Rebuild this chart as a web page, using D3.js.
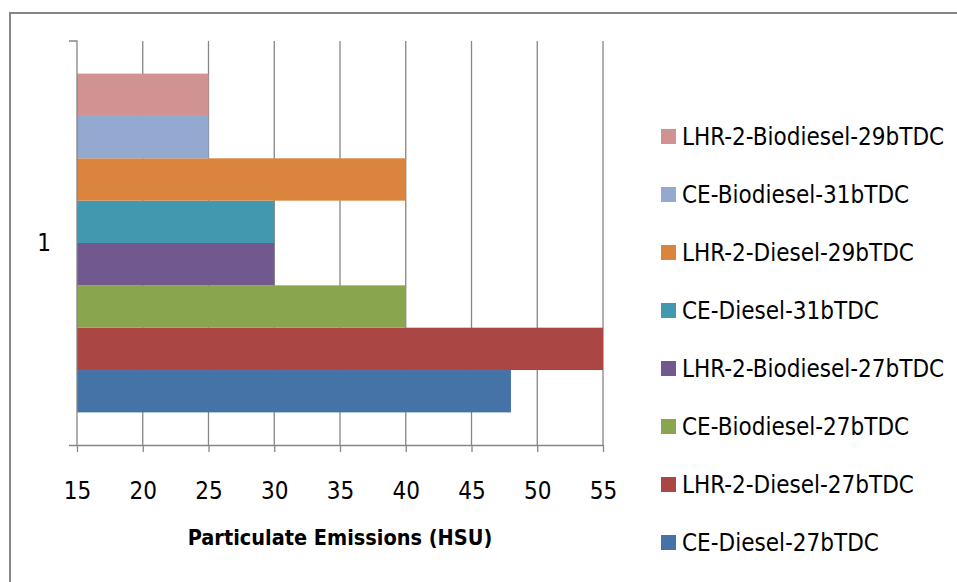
<!DOCTYPE html>
<html>
<head>
<meta charset="utf-8">
<script src="https://cdn.jsdelivr.net/npm/d3@7"></script>
<style>
  body { margin: 0; background: #fff; }
  text { font-family: "Liberation Sans Narrow", "DejaVu Sans Condensed", "Liberation Sans", sans-serif; fill: #000; }
</style>
</head>
<body>
<div id="chart"></div>
<script>
// data (series in plotting order, first = bottom bar)
const categories = ["1"];
const seriesNames = [
  "CE-Diesel-27bTDC",
  "LHR-2-Diesel-27bTDC",
  "CE-Biodiesel-27bTDC",
  "LHR-2-Biodiesel-27bTDC",
  "CE-Diesel-31bTDC",
  "LHR-2-Diesel-29bTDC",
  "CE-Biodiesel-31bTDC",
  "LHR-2-Biodiesel-29bTDC"
];
const seriesValues = [48, 55, 40, 30, 30, 40, 25, 25];
const seriesColors = ["#4572A7", "#AA4643", "#89A54E", "#71588F", "#4198AF", "#DB843D", "#93A9CF", "#D19392"];
const xTicks = [15, 20, 25, 30, 35, 40, 45, 50, 55];
const xTitle = "Particulate Emissions (HSU)";

const width = 957;
const height = 582;
const plot = { left: 77, right: 603, top: 41, bottom: 445 };
const gridColor = "#868686";

const svg = d3.select("#chart")
  .append("svg")
  .attr("width", width)
  .attr("height", height);

// outer chart border (runs off right and bottom edges)
svg.append("rect")
  .attr("x", 10)
  .attr("y", 13)
  .attr("width", 1000)
  .attr("height", 700)
  .attr("fill", "#fff")
  .attr("stroke", gridColor)
  .attr("stroke-width", 2);

const x = d3.scaleLinear()
  .domain([15, 55])
  .range([plot.left, plot.right]);

const yCat = d3.scaleBand()
  .domain(categories)
  .range([plot.bottom, plot.top]);

// first series at the bottom
const ySer = d3.scaleBand()
  .domain(seriesNames.slice().reverse())
  .range([0, plot.bottom - plot.top])
  .paddingOuter(0.77);

// gridlines
svg.append("g")
  .selectAll("line")
  .data(xTicks.slice(1))
  .join("line")
  .attr("x1", d => x(d))
  .attr("x2", d => x(d))
  .attr("y1", plot.top)
  .attr("y2", plot.bottom)
  .attr("stroke", gridColor)
  .attr("stroke-width", 1.3);

// bars
const rows = seriesNames.map((name, i) => ({ name, value: seriesValues[i], color: seriesColors[i] }));
svg.append("g")
  .selectAll("rect")
  .data(rows)
  .join("rect")
  .attr("x", x(15))
  .attr("y", d => yCat("1") + ySer(d.name))
  .attr("width", d => x(d.value) - x(15))
  .attr("height", ySer.bandwidth())
  .attr("fill", d => d.color);

// x axis
const xAxis = d3.axisBottom(x)
  .tickValues(xTicks)
  .tickSize(7)
  .tickPadding(30);

const gx = svg.append("g")
  .attr("transform", `translate(0,${plot.bottom})`)
  .call(xAxis);
gx.attr("font-family", null).attr("font-size", 24);
gx.select(".domain").attr("stroke", gridColor).attr("stroke-width", 1.3)
  .attr("d", `M${plot.left - 8},0.5H${plot.right}`);
gx.selectAll(".tick line").attr("stroke", gridColor).attr("stroke-width", 1.3);

// y axis
const yAxis = d3.axisLeft(yCat).tickSize(0).tickPadding(26);
const gy = svg.append("g")
  .attr("transform", `translate(${plot.left},0)`)
  .call(yAxis);
gy.attr("font-family", null).attr("font-size", 24);
gy.select(".domain").attr("stroke", gridColor).attr("stroke-width", 1.3)
  .attr("d", `M-8,${plot.top}H0V${plot.bottom}`);

// x axis title
svg.append("text")
  .attr("x", (plot.left + plot.right) / 2)
  .attr("y", 545)
  .attr("text-anchor", "middle")
  .attr("font-size", 21.5)
  .attr("font-weight", "bold")
  .text(xTitle);

// legend, last series first
const legendRows = rows.slice().reverse();
const legend = svg.append("g")
  .selectAll("g")
  .data(legendRows)
  .join("g")
  .attr("transform", (d, i) => `translate(661,${136 + i * 58})`);

legend.append("rect")
  .attr("x", 0)
  .attr("y", -7)
  .attr("width", 15)
  .attr("height", 15)
  .attr("fill", d => d.color);

legend.append("text")
  .attr("x", 21)
  .attr("y", 0)
  .attr("dy", "0.36em")
  .attr("font-size", 24)
  .text(d => d.name);
</script>
</body>
</html>
